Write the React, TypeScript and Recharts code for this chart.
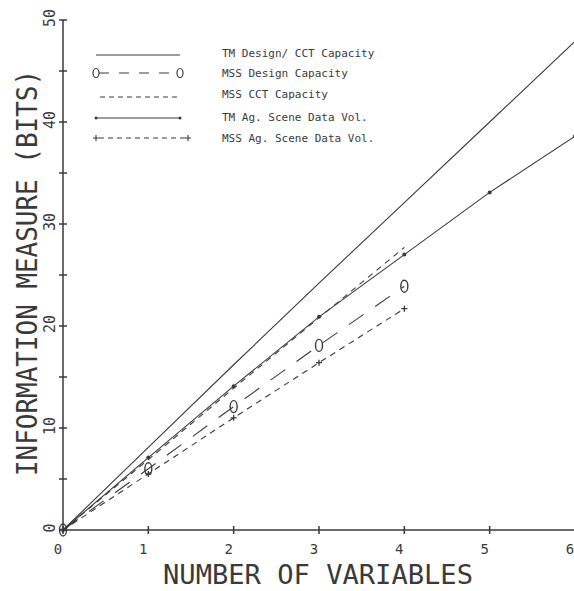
import { LineChart, Line, XAxis, YAxis, Legend } from 'recharts';

// values (bits vs number of variables)
const variables = [0, 1, 2, 3, 4, 5, 6];
const tmDesignCct = [0, 8.1, 16.2, 24.2, 32.1, 40.0, 47.9];
const mssDesign = [0, 6.0, 12.1, 18.1, 23.9];
const mssCct = [0, 6.9, 13.9, 20.8, 27.7];
const tmAgScene = [0, 7.1, 14.1, 20.9, 27.0, 33.1, 38.6];
const mssAgScene = [0, 5.5, 11.0, 16.4, 21.7];

const seriesNames = [
  'TM Design/ CCT Capacity',
  'MSS Design Capacity',
  'MSS CCT Capacity',
  'TM Ag. Scene Data Vol.',
  'MSS Ag. Scene Data Vol.',
];

const xTicks = [0, 1, 2, 3, 4, 5, 6];
const yTicks = [0, 5, 10, 15, 20, 25, 30, 35, 40, 45, 50];
const yLabelled = [0, 10, 20, 30, 40, 50];

const INK = '#3a3a3a';
const MONO = '"DejaVu Sans Mono", monospace';

const data = variables.map((n, i) => ({
  n,
  tmDesign: tmDesignCct[i] ?? null,
  mssDesign: mssDesign[i] ?? null,
  mssCct: mssCct[i] ?? null,
  tmAg: tmAgScene[i] ?? null,
  mssAg: mssAgScene[i] ?? null,
}));

function XTick(props: any) {
  const { x, y, payload } = props;
  return (
    <g>
      <line x1={x} y1={y - 4} x2={x} y2={y + 4} stroke={INK} strokeWidth={1.5} />
      <text x={x - 5} y={y + 24} textAnchor="middle" fontFamily={MONO} fontSize={14} fill={INK}>
        {payload.value}
      </text>
    </g>
  );
}

function YTick(props: any) {
  const { x, y, payload } = props;
  const show = yLabelled.includes(payload.value);
  return (
    <g>
      <line x1={x - 4} y1={y} x2={x + 4} y2={y} stroke={INK} strokeWidth={1.5} />
      {show && (
        <text
          x={x - 8}
          y={y - 2}
          transform={`rotate(-90 ${x - 8} ${y - 2})`}
          textAnchor="middle"
          fontFamily={MONO}
          fontSize={15}
          fill={INK}
        >
          {payload.value}
        </text>
      )}
    </g>
  );
}

function OhDot(props: any) {
  const { cx, cy, index } = props;
  if (cx == null || cy == null) return <g key={`o-${index}`} />;
  return <ellipse key={`o-${index}`} cx={cx} cy={cy} rx={3.5} ry={6} fill="none" stroke={INK} strokeWidth={1.4} />;
}

function PlusDot(props: any) {
  const { cx, cy, index } = props;
  if (cx == null || cy == null) return <g key={`p-${index}`} />;
  return (
    <path
      key={`p-${index}`}
      d={`M${cx - 3},${cy}H${cx + 3}M${cx},${cy - 3}V${cy + 3}`}
      stroke={INK}
      strokeWidth={1.3}
    />
  );
}

function TickDot(props: any) {
  const { cx, cy, index } = props;
  if (cx == null || cy == null) return <g key={`t-${index}`} />;
  return <circle key={`t-${index}`} cx={cx} cy={cy} r={2} fill={INK} />;
}

function LegendBox() {
  const rows = [53, 73, 94, 117, 138];
  return (
    <svg width={400} height={160} style={{ display: 'block' }}>
      {/* TM design */}
      <line x1={96} x2={180} y1={rows[0] + 2} y2={rows[0] + 2} stroke={INK} strokeWidth={1.1} />
      {/* MSS design */}
      <line x1={99} x2={176} y1={rows[1]} y2={rows[1]} stroke={INK} strokeWidth={1.1} strokeDasharray="10 10" />
      <ellipse cx={96} cy={rows[1]} rx={3} ry={4.5} fill="none" stroke={INK} strokeWidth={1.2} />
      <ellipse cx={180} cy={rows[1]} rx={3} ry={4.5} fill="none" stroke={INK} strokeWidth={1.2} />
      {/* MSS CCT */}
      <line x1={100} x2={180} y1={rows[2] + 3} y2={rows[2] + 3} stroke={INK} strokeWidth={1.1} strokeDasharray="5 4" />
      {/* TM Ag */}
      <line x1={96} x2={180} y1={rows[3] + 1} y2={rows[3] + 1} stroke={INK} strokeWidth={1.1} />
      <circle cx={96} cy={rows[3] + 1} r={1.5} fill={INK} />
      <circle cx={180} cy={rows[3] + 1} r={1.5} fill={INK} />
      {/* MSS Ag */}
      <line x1={99} x2={185} y1={rows[4]} y2={rows[4]} stroke={INK} strokeWidth={1.1} strokeDasharray="5 4" />
      <path d={`M93,${rows[4]}H99M96,${rows[4] - 3}V${rows[4] + 3}`} stroke={INK} strokeWidth={1.1} />
      <path d={`M185,${rows[4]}H191M188,${rows[4] - 3}V${rows[4] + 3}`} stroke={INK} strokeWidth={1.1} />
      {seriesNames.map((name, i) => (
        <text key={name} x={222} y={rows[i] + 4} fontFamily={MONO} fontSize={11} fill={INK}>
          {name}
        </text>
      ))}
    </svg>
  );
}

export default function App() {
  return (
    <div style={{ position: 'absolute', left: 0, top: 0, width: 574, height: 591, overflow: 'hidden', background: '#fff' }}>
      <LineChart width={580} height={591} data={data} margin={{ top: 20, right: 5, bottom: 60, left: 62 }}>
        <XAxis
          type="number"
          dataKey="n"
          domain={[0, 6]}
          ticks={xTicks}
          interval={0}
          height={1}
          tickSize={0}
          tickMargin={0}
          tick={(p: any) => <XTick {...p} />}
          axisLine={{ stroke: INK, strokeWidth: 1.5 }}
          tickLine={false}
        />
        <YAxis
          type="number"
          domain={[0, 50]}
          ticks={yTicks}
          interval={0}
          width={1}
          tickSize={0}
          tickMargin={0}
          tick={(p: any) => <YTick {...p} />}
          axisLine={{ stroke: INK, strokeWidth: 1.5 }}
          tickLine={false}
        />
        <Legend
          layout="vertical"
          align="center"
          verticalAlign="middle"
          wrapperStyle={{ left: 0, top: 0, width: 400, height: 160 }}
          content={() => <LegendBox />}
        />
        <Line
          dataKey="tmDesign"
          name={seriesNames[0]}
          stroke={INK}
          strokeWidth={1.1}
          dot={false}
          isAnimationActive={false}
        />
        <Line
          dataKey="mssDesign"
          name={seriesNames[1]}
          stroke={INK}
          strokeWidth={1.1}
          strokeDasharray="18 14"
          dot={(p: any) => <OhDot {...p} />}
          isAnimationActive={false}
        />
        <Line
          dataKey="mssCct"
          name={seriesNames[2]}
          stroke={INK}
          strokeWidth={1.1}
          strokeDasharray="6 5"
          dot={false}
          isAnimationActive={false}
        />
        <Line
          dataKey="tmAg"
          name={seriesNames[3]}
          stroke={INK}
          strokeWidth={1.1}
          dot={(p: any) => <TickDot {...p} />}
          isAnimationActive={false}
        />
        <Line
          dataKey="mssAg"
          name={seriesNames[4]}
          stroke={INK}
          strokeWidth={1.1}
          strokeDasharray="6 5"
          dot={(p: any) => <PlusDot {...p} />}
          isAnimationActive={false}
        />
      </LineChart>
      {/* axis titles, condensed to match the plotter lettering */}
      <svg width={574} height={591} style={{ position: 'absolute', left: 0, top: 0, pointerEvents: 'none' }}>
        <text
          x={318}
          y={584}
          textAnchor="middle"
          fontFamily={MONO}
          fontSize={27}
          fill={INK}
          textLength={310}
          lengthAdjust="spacingAndGlyphs"
        >
          NUMBER OF VARIABLES
        </text>
        <text
          x={37}
          y={273}
          transform="rotate(-90 37 273)"
          textAnchor="middle"
          fontFamily={MONO}
          fontSize={28}
          fill={INK}
          textLength={406}
          lengthAdjust="spacingAndGlyphs"
        >
          INFORMATION MEASURE (BITS)
        </text>
      </svg>
    </div>
  );
}
